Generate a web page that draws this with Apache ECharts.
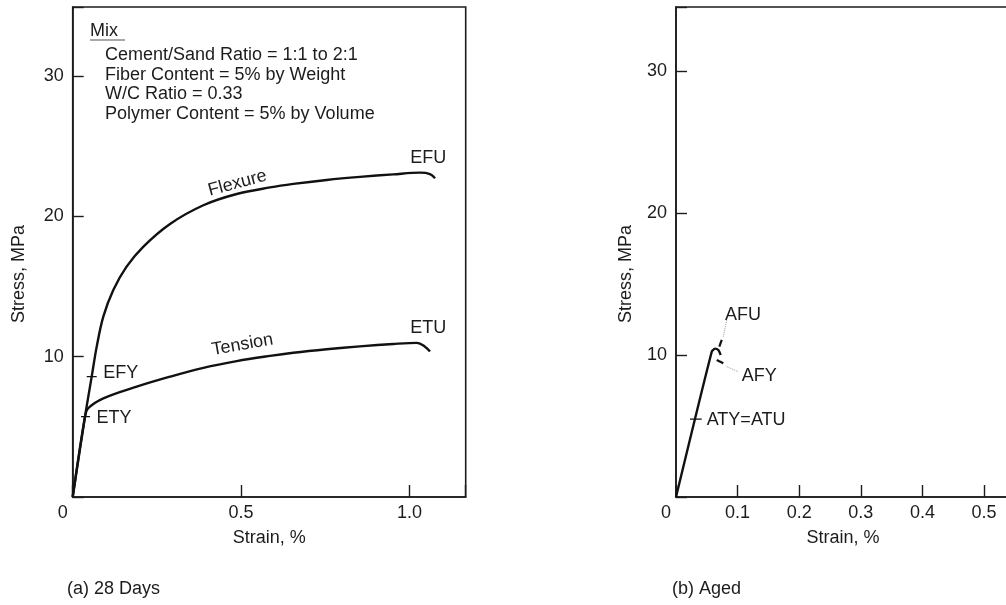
<!DOCTYPE html>
<html>
<head>
<meta charset="utf-8">
<title>Stress-strain curves, 28 days and aged</title>
<script src="https://cdn.jsdelivr.net/npm/echarts@6/dist/echarts.min.js"></script>
<style>
  html, body { margin: 0; padding: 0; background: #fff; }
  #chart { width: 1006px; height: 605px; }
</style>
</head>
<body>
<div id="chart"></div>
<script>
// ---- data: strain (%) vs stress (MPa) ----
const flexure28 = [
  [0, 0], [0.0365, 5.72], [0.0564, 8.57], [0.0713, 10.71], [0.0909, 12.85],
  [0.1206, 14.75], [0.160, 16.41], [0.210, 17.84], [0.289, 19.45], [0.388, 20.78],
  [0.487, 21.58], [0.586, 22.05], [0.655, 22.30], [0.754, 22.58], [0.853, 22.80],
  [0.952, 22.98], [1.031, 23.10], [1.061, 23.00], [1.076, 22.70]
];
const tension28 = [
  [0, 0], [0.0365, 5.72], [0.046, 6.32], [0.091, 7.03], [0.190, 7.86],
  [0.289, 8.57], [0.388, 9.20], [0.487, 9.68], [0.586, 10.05], [0.655, 10.27],
  [0.754, 10.52], [0.853, 10.73], [0.952, 10.90], [1.022, 10.98], [1.046, 10.71],
  [1.061, 10.36]
];
const agedMain = [[0, 0], [0.058, 10.23], [0.0633, 10.45], [0.0687, 10.35], [0.0725, 10.0]];
const agedFlexDrop = [[0.066, 9.65], [0.0768, 9.42]];
const agedFlexUlt = [[0.0703, 10.58], [0.0742, 11.06]];
const agedLeaderAFU = [[0.0768, 11.29], [0.0823, 12.46]];
const agedLeaderAFY = [[0.0823, 9.18], [0.101, 8.82]];

// short cross marks on the curves (yield points)
const markEFY = [[0.0416, 8.57], [0.0713, 8.57]];
const markETY = [[0.0247, 5.72], [0.0514, 5.72]];
const markATY = [[0.0227, 5.49], [0.0417, 5.49]];

// labels placed at data coordinates
const labels28 = [
  { name: 'EFY', value: [0.091, 8.82], pos: 'right' },
  { name: 'ETY', value: [0.071, 5.61], pos: 'right' },
  { name: 'EFU', value: [1.002, 24.14], pos: 'right' },
  { name: 'ETU', value: [1.002, 12.02], pos: 'right' },
  { name: 'Flexure', value: [0.489, 22.35], pos: 'inside', rotate: 15 },
  { name: 'Tension', value: [0.504, 10.85], pos: 'inside', rotate: 10 }
];
const labelsAged = [
  { name: 'AFU', value: [0.0795, 12.82], pos: 'right' },
  { name: 'AFY', value: [0.1066, 8.54], pos: 'right' },
  { name: 'ATY=ATU', value: [0.0498, 5.42], pos: 'right' }
];

const mixTitle = 'Mix';
const mixNotes = [
  'Cement/Sand Ratio = 1:1 to 2:1',
  'Fiber Content = 5% by Weight',
  'W/C Ratio = 0.33',
  'Polymer Content = 5% by Volume'
];
const panelTitles = ['(a) 28 Days', '(b) Aged'];
const xName = 'Strain, %';
const yName = 'Stress, MPa';
const xInterval = [0.5, 0.1];
const yInterval = 10;

// ---- styling ----
const FONT = '"Liberation Sans", Arial, Helvetica, sans-serif';
const INK = '#1c1c1c';

function xLabelFmt(step) {
  return function (v) {
    const k = v / step;
    if (Math.abs(k - Math.round(k)) > 1e-6) return '';
    if (Math.abs(v) < 1e-9) return '{z|0}';
    return v.toFixed(1);
  };
}
function yLabelFmt(v) {
  const k = v / yInterval;
  if (Math.abs(k - Math.round(k)) > 1e-6 || Math.abs(v) < 1e-9) return '';
  return String(Math.round(v));
}

function xAxisCfg(gridIndex, max, step) {
  return {
    type: 'value', gridIndex: gridIndex, min: 0, max: max, interval: step,
    name: xName, nameLocation: 'middle', nameGap: 32,
    nameTextStyle: { fontSize: 18, color: INK, fontFamily: FONT },
    axisLine: { show: true, lineStyle: { color: INK, width: 1.6 } },
    axisTick: { show: true, inside: true, length: 12, lineStyle: { color: INK, width: 1.4 } },
    axisLabel: {
      fontSize: 18, color: INK, fontFamily: FONT, margin: 7,
      formatter: xLabelFmt(step),
      rich: { z: { fontSize: 18, color: INK, fontFamily: FONT, padding: [0, 20, 0, 0] } }
    },
    splitLine: { show: false }
  };
}
function yAxisCfg(gridIndex, max, gap) {
  return {
    type: 'value', gridIndex: gridIndex, min: 0, max: max, interval: yInterval,
    name: yName, nameLocation: 'middle', nameGap: gap, nameRotate: 90,
    nameTextStyle: { fontSize: 18, color: INK, fontFamily: FONT, padding: [0, 44, 0, 0] },
    axisLine: { show: true, lineStyle: { color: INK, width: 1.6 } },
    axisTick: { show: true, inside: true, length: 11, lineStyle: { color: INK, width: 1.4 } },
    axisLabel: { fontSize: 18, color: INK, fontFamily: FONT, margin: 9, formatter: yLabelFmt },
    splitLine: { show: false }
  };
}

function curve(data, xi, width, extra) {
  return Object.assign({
    type: 'line', xAxisIndex: xi, yAxisIndex: xi, data: data,
    showSymbol: false, symbol: 'none', silent: true,
    lineStyle: { color: '#111', width: width }
  }, extra || {});
}
function labelSeries(items, xi) {
  return {
    type: 'scatter', xAxisIndex: xi, yAxisIndex: xi, silent: true,
    symbol: 'circle', symbolSize: 0.01, itemStyle: { color: INK, opacity: 1 },
    data: items.map(function (d) {
      return {
        name: d.name, value: d.value,
        label: {
          show: true, formatter: '{b}', position: d.pos, distance: 0,
          rotate: d.rotate || 0, fontSize: 18, color: INK, fontFamily: FONT,
          textBorderWidth: 0, opacity: 1
        }
      };
    })
  };
}

const chart = echarts.init(document.getElementById('chart'), null, { renderer: 'canvas' });
chart.setOption({
  animation: false,
  backgroundColor: '#fff',
  title: [
    { text: panelTitles[0], left: 67, top: 580, padding: 0,
      textStyle: { fontSize: 18, fontWeight: 'normal', color: INK, fontFamily: FONT } },
    { text: panelTitles[1], left: 672, top: 580, padding: 0,
      textStyle: { fontSize: 18, fontWeight: 'normal', color: INK, fontFamily: FONT } }
  ],
  grid: [
    { left: 72.7, top: 7, width: 393, height: 490, show: true, outerBoundsMode: 'none',
      borderColor: INK, borderWidth: 1.6, backgroundColor: 'transparent' },
    { left: 676, top: 7, width: 334, height: 490, show: true, outerBoundsMode: 'none',
      borderColor: INK, borderWidth: 1.6, backgroundColor: 'transparent' }
  ],
  xAxis: [xAxisCfg(0, 1.167, xInterval[0]), xAxisCfg(1, 0.542, xInterval[1])],
  yAxis: [yAxisCfg(0, 34.9, 45), yAxisCfg(1, 34.5, 41)],
  series: [
    curve(flexure28, 0, 2.4, { smooth: 0.35 }),
    curve(tension28, 0, 2.4, { smooth: 0.35 }),
    curve(markEFY, 0, 1.3),
    curve(markETY, 0, 1.3),
    labelSeries(labels28, 0),
    curve(agedMain, 1, 2.4, { smooth: 0.2 }),
    curve(agedFlexDrop, 1, 2.2),
    curve(agedFlexUlt, 1, 2.2),
    curve(agedLeaderAFU, 1, 1, { lineStyle: { color: '#999', width: 1, type: 'dotted' } }),
    curve(agedLeaderAFY, 1, 1, { lineStyle: { color: '#999', width: 1, type: 'dotted' } }),
    curve(markATY, 1, 1.3),
    labelSeries(labelsAged, 1)
  ],
  graphic: [
    { type: 'text', x: 90, y: 22, silent: true,
      style: { text: mixTitle, fontSize: 18, fontFamily: FONT, fill: INK } },
    { type: 'line', silent: true, shape: { x1: 90, y1: 40, x2: 125, y2: 40 },
      style: { stroke: '#555', lineWidth: 1.2 } },
    { type: 'text', x: 105, y: 45, silent: true,
      style: { text: mixNotes.join('\n'), fontSize: 18, lineHeight: 19.7, fontFamily: FONT, fill: INK } }
  ]
});
</script>
</body>
</html>
